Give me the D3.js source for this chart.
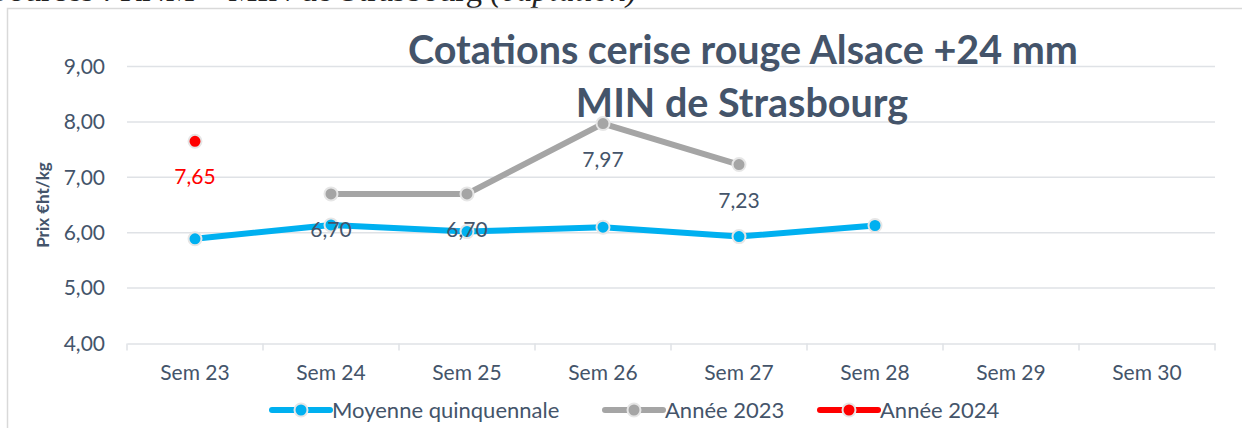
<!DOCTYPE html>
<html>
<head>
<meta charset="utf-8">
<script src="https://cdn.jsdelivr.net/npm/d3@7"></script>
<style>
  html, body { margin: 0; padding: 0; background: #fff; overflow: hidden; }
  svg { display: block; }
</style>
</head>
<body>
<svg id="chart" width="1242" height="428"></svg>
<script>
// data
const semaines = ["Sem 23", "Sem 24", "Sem 25", "Sem 26", "Sem 27", "Sem 28", "Sem 29", "Sem 30"];
const moyenne = [5.89, 6.14, 6.02, 6.10, 5.93, 6.13, null, null];
const annee2023 = [null, 6.70, 6.70, 7.97, 7.23, null, null, null];
const annee2024 = [7.65, null, null, null, null, null, null, null];
const yTicks = [4, 5, 6, 7, 8, 9];

const svg = d3.select("#chart");
const slate = "#44546A";
const font = "Lato, 'Open Sans', sans-serif";
const fmt = v => d3.format(".2f")(v).replace(".", ",");

// source line of the page, cut off by the top edge
svg.append("text")
  .attr("x", 637).attr("y", 0.5)
  .attr("text-anchor", "end")
  .attr("font-family", "'Liberation Serif', 'Times New Roman', serif")
  .attr("font-size", 33).attr("fill", "#222")
  .html('Sources : RNM – MIN de Strasbourg <tspan font-style="italic">(captation)</tspan>');

// chart frame
svg.append("path")
  .attr("d", "M7.5,440V8.5H1250")
  .attr("fill", "none").attr("stroke", "#D9D9D9").attr("stroke-width", 1.5);

const x = d3.scaleBand().domain(semaines).range([127, 1215]);
const y = d3.scaleLinear().domain([4, 9]).range([343.5, 66.5]);

// gridlines
svg.append("g").selectAll("line")
  .data(yTicks.slice(1))
  .enter().append("line")
  .attr("x1", 127).attr("x2", 1215)
  .attr("y1", d => y(d)).attr("y2", d => y(d))
  .attr("stroke", "#DFE2E6").attr("stroke-width", 1.5);

// y axis labels
svg.append("g")
  .attr("transform", "translate(105,0)")
  .call(d3.axisLeft(y).tickValues(yTicks).tickFormat(fmt).tickSize(0).tickPadding(0))
  .call(g => g.select(".domain").remove())
  .call(g => g.selectAll("text")
    .attr("font-family", font).attr("font-size", 21).attr("fill", slate));

// x axis
const xAxis = svg.append("g")
  .attr("transform", "translate(0," + y(4) + ")")
  .call(d3.axisBottom(x).tickSize(0).tickPadding(22));
xAxis.select(".domain").attr("stroke", "#DFE2E6").attr("stroke-width", 1.5);
xAxis.selectAll("text")
  .attr("font-family", font).attr("font-size", 21).attr("fill", slate);
xAxis.append("g").selectAll("line")
  .data(d3.range(semaines.length + 1))
  .enter().append("line")
  .attr("x1", i => 127 + i * x.step()).attr("x2", i => 127 + i * x.step())
  .attr("y1", 0).attr("y2", 7)
  .attr("stroke", "#DFE2E6").attr("stroke-width", 1.5);

// y axis title
svg.append("text")
  .attr("transform", "translate(49,205) rotate(-90)")
  .attr("text-anchor", "middle")
  .attr("font-family", font).attr("font-size", 17).attr("font-weight", "bold")
  .attr("fill", slate)
  .text("Prix €ht/kg");

// title
const title = svg.append("g")
  .attr("text-anchor", "middle")
  .attr("font-family", font).attr("font-size", 39.5).attr("font-weight", "bold")
  .attr("fill", slate);
title.append("text").attr("x", 743).attr("y", 64).text("Cotations cerise rouge Alsace +24 mm");
title.append("text").attr("x", 742).attr("y", 117).text("MIN de Strasbourg");

const series = [
  { name: "Moyenne quinquennale", values: moyenne, color: "#00B0F0", label: false },
  { name: "Année 2023", values: annee2023, color: "#A5A5A5", label: true, labelColor: slate },
  { name: "Année 2024", values: annee2024, color: "#FF0000", label: true, labelColor: "#FF0000" }
];

const line = d3.line()
  .defined(d => d.v != null)
  .x(d => x(d.s) + x.bandwidth() / 2)
  .y(d => y(d.v));

series.forEach(s => {
  const pts = semaines.map((sem, i) => ({ s: sem, v: s.values[i] }));
  const g = svg.append("g");
  g.append("path")
    .datum(pts)
    .attr("d", line)
    .attr("fill", "none")
    .attr("stroke", s.color).attr("stroke-width", 6)
    .attr("stroke-linejoin", "round");
  g.selectAll("circle")
    .data(pts.filter(d => d.v != null))
    .enter().append("circle")
    .attr("cx", d => x(d.s) + x.bandwidth() / 2)
    .attr("cy", d => y(d.v))
    .attr("r", 6.5)
    .attr("fill", s.color)
    .attr("stroke", "#E6E6E6").attr("stroke-width", 2);
});

// data labels, drawn on top
series.filter(s => s.label).forEach(s => {
  const pts = semaines.map((sem, i) => ({ s: sem, v: s.values[i] })).filter(d => d.v != null);
  svg.append("g").selectAll("text")
    .data(pts)
    .enter().append("text")
    .attr("x", d => x(d.s) + x.bandwidth() / 2)
    .attr("y", d => y(d.v) + 43)
    .attr("text-anchor", "middle")
    .attr("font-family", font).attr("font-size", 21)
    .attr("fill", s.labelColor)
    .text(d => fmt(d.v));
});

// legend
const legendX = [272, 605, 820];
const legend = svg.append("g").selectAll("g")
  .data(series)
  .enter().append("g")
  .attr("transform", (d, i) => "translate(" + legendX[i] + ",410)");
legend.append("line")
  .attr("x1", 0).attr("x2", 58)
  .attr("stroke", d => d.color).attr("stroke-width", 6).attr("stroke-linecap", "round");
legend.append("circle")
  .attr("cx", 29).attr("r", 6.5)
  .attr("fill", d => d.color).attr("stroke", "#E6E6E6").attr("stroke-width", 2);
legend.append("text")
  .attr("x", 60).attr("y", 8)
  .attr("font-family", font).attr("font-size", 22).attr("fill", slate)
  .text(d => d.name);
</script>
</body>
</html>
